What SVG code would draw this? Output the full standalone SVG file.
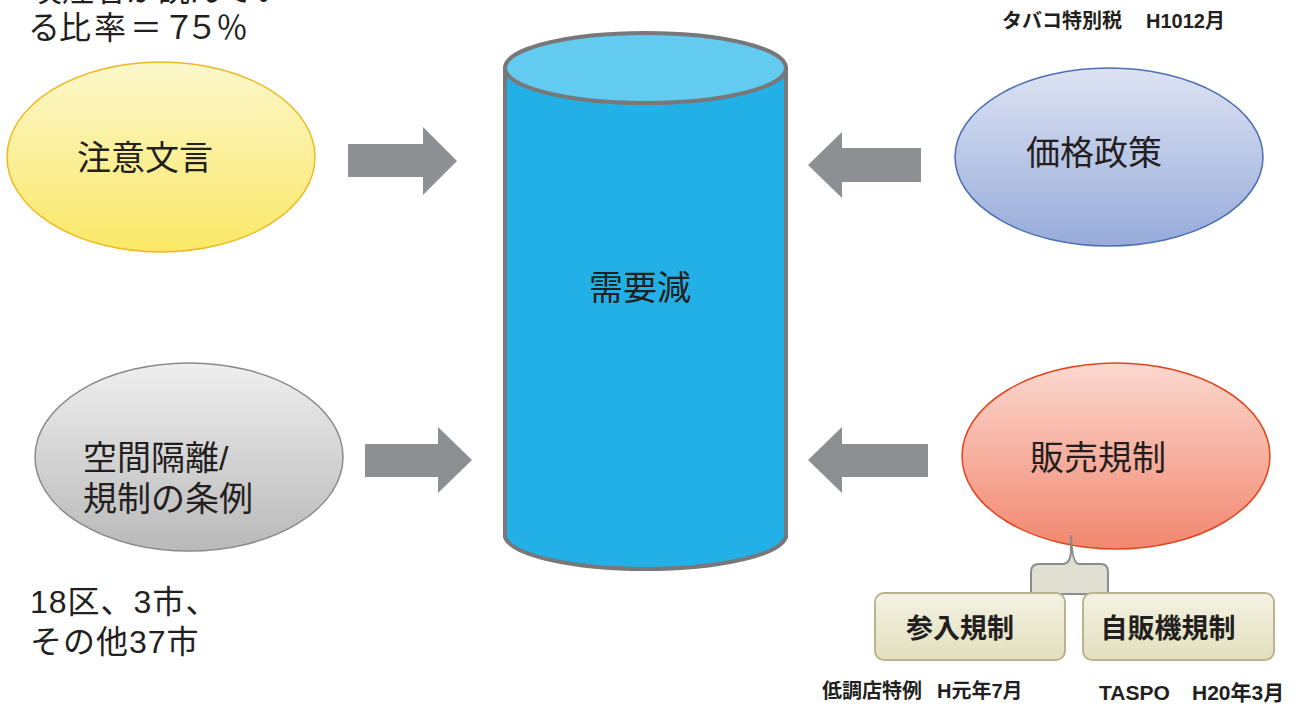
<svg xmlns="http://www.w3.org/2000/svg" width="1309" height="704" viewBox="0 0 1309 704">
<defs>
<style>
text{font-family:"Liberation Sans","Noto Sans CJK JP",sans-serif;fill:#231f20}
.big{font-size:34px}
.lbl{font-size:32px}
.bold{font-size:20px;font-weight:bold}
.sub{font-size:27px;font-weight:bold}
.arrow{fill:#8e8f93}
</style>
<linearGradient id="gY" x1="0" y1="0" x2="0" y2="1"><stop offset="0" stop-color="#fbf7cc"/><stop offset="1" stop-color="#fbe865"/></linearGradient>
<linearGradient id="gB" x1="0" y1="0" x2="0" y2="1"><stop offset="0" stop-color="#dde3f3"/><stop offset="1" stop-color="#97abda"/></linearGradient>
<linearGradient id="gG" x1="0" y1="0" x2="0" y2="1"><stop offset="0" stop-color="#efefef"/><stop offset="1" stop-color="#b9b9b9"/></linearGradient>
<linearGradient id="gR" x1="0" y1="0" x2="0" y2="1"><stop offset="0" stop-color="#fbd8cf"/><stop offset="1" stop-color="#f2876f"/></linearGradient>
<linearGradient id="gS" x1="0" y1="0" x2="0" y2="1"><stop offset="0" stop-color="#f4f2e3"/><stop offset="1" stop-color="#e2dfbe"/></linearGradient>
</defs>
<rect width="1309" height="704" fill="#ffffff"/>

<g id="note-top-left">
<text class="lbl" x="30" y="1">喫煙者が読んでい</text>
<text class="lbl" x="28 59 94 130 163 186 216" y="39">る比率＝７５％</text>
</g>

<g id="cylinder">
<path d="M505,68 L505,537 A141,35 0 0 0 786,537 L786,68 Z" fill="#22b0e6" stroke="#78787a" stroke-width="4"/>
<ellipse cx="645.5" cy="68" rx="140.5" ry="35" fill="#63cbf0" stroke="#78787a" stroke-width="4"/>
<text class="big" x="640" y="300" text-anchor="middle">需要減</text>
</g>

<g id="node-warning">
<ellipse cx="161" cy="157" rx="154" ry="95" fill="url(#gY)" stroke="#f0b823" stroke-width="1.5"/>
<text class="big" x="145" y="170" text-anchor="middle">注意文言</text>
</g>

<g id="node-price">
<ellipse cx="1109" cy="157" rx="154" ry="89" fill="url(#gB)" stroke="#4a6fb5" stroke-width="1.5"/>
<text class="big" x="1094" y="165" text-anchor="middle">価格政策</text>
</g>

<g id="node-space">
<ellipse cx="189" cy="457" rx="154" ry="94" fill="url(#gG)" stroke="#8a8a8a" stroke-width="1.5"/>
<text class="big" x="83" y="470">空間隔離/</text>
<text class="big" x="83" y="511">規制の条例</text>
</g>

<g id="node-sales">
<ellipse cx="1116" cy="456" rx="154" ry="93" fill="url(#gR)" stroke="#e0461e" stroke-width="1.5"/>
<text class="big" x="1098" y="470" text-anchor="middle">販売規制</text>
</g>

<g id="connectors">
<polygon class="arrow" points="348,144 423,144 423,127 457,161 423,195 423,177 348,177"/>
<polygon class="arrow" points="921,148 842,148 842,132 808,165 842,198 842,182 921,182"/>
<polygon class="arrow" points="365,444 438,444 438,427 472,460 438,493 438,477 365,477"/>
<polygon class="arrow" points="928,444 842,444 842,427 808,460 842,493 842,477 928,477"/>
<path d="M1031,594 L1031,572 Q1031,564 1039,564 L1063,564 Q1070,564 1071,552 L1071,535 Q1072,564 1079,564 L1101,564 Q1108,564 1108,572 L1108,594 Z" fill="#dfe0d2" stroke="#8c8c8c" stroke-width="2"/>
</g>

<g id="node-entry">
<rect x="875" y="593" width="190" height="67" rx="9" fill="url(#gS)" stroke="#b8b48e" stroke-width="2"/>
<text class="sub" x="960" y="638" text-anchor="middle">参入規制</text>
</g>

<g id="node-vending">
<rect x="1083" y="593" width="191" height="67" rx="9" fill="url(#gS)" stroke="#b8b48e" stroke-width="2"/>
<text class="sub" x="1168" y="638" text-anchor="middle">自販機規制</text>
</g>

<g id="labels">
<text class="bold" x="1002" y="28">タバコ特別税<tspan x="1146">H1012月</tspan></text>
<text class="bold" x="822" y="698">低調店特例<tspan x="937">H元年7月</tspan></text>
<text class="bold" x="1099" y="700" style="font-size:21px">TASPO<tspan x="1192">H20年3月</tspan></text>
<text class="lbl" x="30" y="613" letter-spacing="1">18区、3市、</text>
<text class="lbl" x="30" y="653" letter-spacing="1">その他37市</text>
</g>
</svg>
